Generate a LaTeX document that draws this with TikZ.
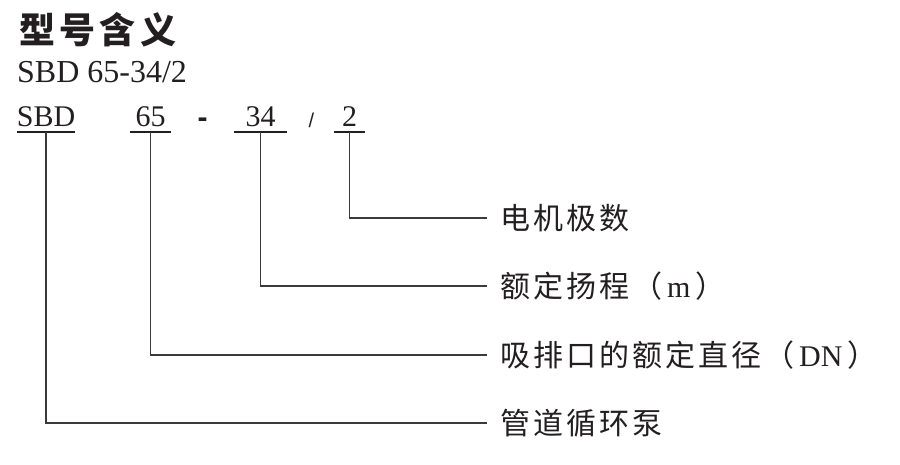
\documentclass[tikz,border=0pt]{standalone}
\usepackage{fontspec}
\setmainfont{Liberation Serif}
\newfontfamily\cjk{Noto Sans CJK SC}
\newfontfamily\sansf{Liberation Sans}
\definecolor{ink}{HTML}{231F20}
\definecolor{wire}{HTML}{3A3A3A}
\tikzset{
  titletext/.style={anchor=west, inner sep=0pt, text=ink, font={\fontsize{36}{42}\selectfont\cjk\bfseries\addfontfeature{LetterSpace=12}}},
  modeltext/.style={anchor=base west, inner sep=0pt, text=ink, font={\fontsize{32}{36}\selectfont}},
  codebox/.style={anchor=south, inner xsep=0pt, inner ysep=5pt, text depth=0pt, text=ink, font={\fontsize{30}{34}\selectfont}},
  underl/.style={draw=ink, line width=1.4pt},
  conn/.style={draw=wire, line width=1.4pt, shorten >=13pt},
  lbl/.style={anchor=west, inner sep=0pt, text=ink, font={\fontsize{30}{36}\selectfont\cjk\addfontfeature{LetterSpace=10}}},
  sep/.style={anchor=base, inner sep=0pt, text=ink}
}
\begin{document}
\begin{tikzpicture}[x=1pt,y=-1pt]
\useasboundingbox (0,0) rectangle (900,464);
\node[titletext] (title) at (19,30) {型号含义};
\node[modeltext] (model) at (17,82) {SBD 65-34/2};
\node[codebox, minimum width=54pt] (c1) at (46,132) {SBD};
\node[codebox, minimum width=41pt] (c2) at (150.5,132) {65};
\node[codebox, minimum width=53pt] (c3) at (260.5,132) {34};
\node[codebox, minimum width=31pt] (c4) at (349.5,132) {2};
\node[sep, font={\fontsize{30}{34}\selectfont\sansf\bfseries}] (dash) at (202.5,127) {-};
\node[sep, font={\fontsize{20}{24}\selectfont\sansf}] (slash) at (311.5,127) {/};
\foreach \c in {c1,c2,c3,c4} \draw[underl] (\c.south west) -- (\c.south east);
\node[lbl] (l1) at (500,218) {电机极数};
\node[lbl] (l2) at (500,286) {额定扬程（\hspace{5pt}{\rmfamily m}\hspace{5pt}）};
\node[lbl] (l3) at (500,355) {吸排口的额定直径（\hspace{5pt}{\rmfamily DN}\hspace{5pt}）};
\node[lbl] (l4) at (500,423) {管道循环泵};
\draw[conn] (c4.south) |- (l1.west);
\draw[conn] (c3.south) |- (l2.west);
\draw[conn] (c2.south) |- (l3.west);
\draw[conn] (c1.south) |- (l4.west);
\end{tikzpicture}
\end{document}
